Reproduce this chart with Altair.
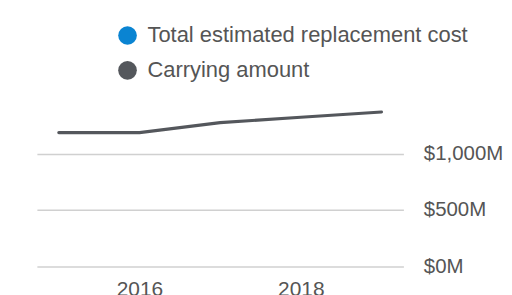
import altair as alt
import pandas as pd

years = [2015, 2016, 2017, 2018, 2019]
carrying = [1186, 1186, 1274, 1322, 1369]
series_names = ["Total estimated replacement cost", "Carrying amount"]
series_colors = ["#0a84d2", "#54575c"]
y_ticks = [0, 500, 1000]
x_ticks = [2016, 2018]

df = pd.DataFrame({"year": years, "value": carrying, "series": "Carrying amount"})

FONT = "Liberation Sans"

x_enc = alt.X("year:Q",
              scale=alt.Scale(domain=[2014.728, 2019.272], nice=False, zero=False),
              axis=alt.Axis(values=x_ticks, format="d", title=None, grid=False, domain=False,
                            ticks=False, labelPadding=13, labelFontSize=21, labelColor="#555",
                            labelFont=FONT))
y_enc = alt.Y("value:Q",
              scale=alt.Scale(domain=[0, 1500], nice=False),
              axis=alt.Axis(orient="right", values=y_ticks, title=None, domain=False, ticks=False,
                            labelPadding=20, labelFontSize=20.5, labelColor="#555", labelFont=FONT,
                            labelExpr="'$' + format(datum.value, ',') + 'M'",
                            gridColor="#d0d0d0", gridWidth=1.6))

line = alt.Chart(df).mark_line(strokeWidth=3.2, strokeCap="round", color=series_colors[1]).encode(
    x=x_enc, y=y_enc)

legend_layer = alt.Chart(df).transform_filter("false").mark_point(filled=True, opacity=1).encode(
    x=x_enc, y=y_enc,
    fill=alt.Fill("series:N",
                  scale=alt.Scale(domain=series_names, range=series_colors),
                  legend=alt.Legend(title=None, orient="none", legendX=80, legendY=-73,
                                    symbolType="circle", symbolSize=350, symbolStrokeWidth=0,
                                    symbolOpacity=1,
                                    labelFontSize=22, labelColor="#555", labelFont=FONT,
                                    labelOffset=9, rowPadding=13, padding=0,
                                    labelLimit=400)),
)

chart = alt.layer(line, legend_layer).properties(
    width=368, height=169.5,
    autosize=alt.AutoSizeParams(type="none"),
    padding={"left": 29, "top": 89, "right": 101, "bottom": 40},
).configure_view(stroke=None)

chart.save("out.html", embed_options={"renderer": "svg", "actions": False})
